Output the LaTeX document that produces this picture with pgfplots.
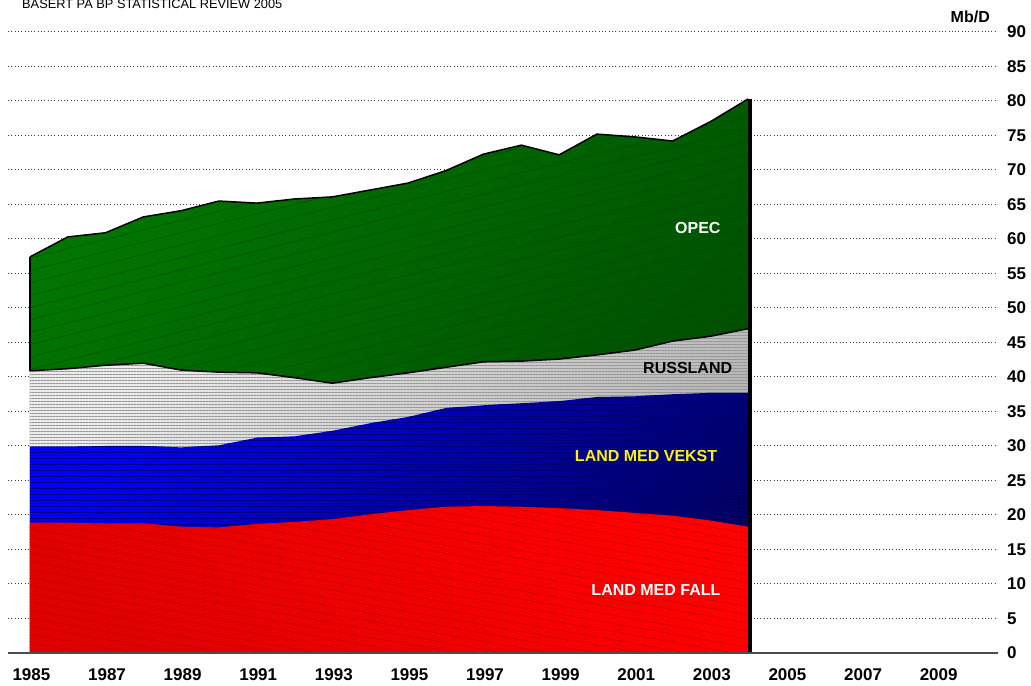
\documentclass[border=0pt]{standalone}
\usepackage{fontspec}
\setmainfont{Liberation Sans}
\usepackage{pgfplots}
\usepackage{pgfplotstable}
\pgfplotsset{compat=1.18}
\usetikzlibrary{patterns.meta}

\definecolor{opecA}{RGB}{0,118,0}
\definecolor{opecB}{RGB}{0,72,0}
\definecolor{opecL}{RGB}{0,70,0}
\definecolor{russA}{RGB}{236,236,236}
\definecolor{russB}{RGB}{172,172,172}
\definecolor{russL}{RGB}{150,150,150}
\definecolor{vekA}{RGB}{0,0,250}
\definecolor{vekB}{RGB}{0,0,90}
\definecolor{vekL}{RGB}{0,0,110}
\definecolor{fallA}{RGB}{255,0,0}
\definecolor{fallB}{RGB}{225,0,0}
\definecolor{fallL}{RGB}{175,0,0}
\definecolor{gridc}{RGB}{60,60,60}

\pgfplotstableread{
year fall vekst russ opec
1985 18.9 11.0 11.0 16.5
1986 18.9 11.0 11.3 19.1
1987 18.8 11.2 11.7 19.2
1988 18.8 11.2 12.0 21.2
1989 18.3 11.5 11.2 23.1
1990 18.2 11.9 10.6 24.8
1991 18.7 12.5 9.4 24.6
1992 19.0 12.4 8.5 25.9
1993 19.4 12.8 6.9 27.0
1994 20.1 13.2 6.6 27.2
1995 20.7 13.5 6.4 27.5
1996 21.2 14.3 5.9 28.5
1997 21.3 14.6 6.3 30.1
1998 21.2 15.0 6.1 31.3
1999 21.0 15.5 6.1 29.6
2000 20.7 16.4 6.1 32.0
2001 20.3 16.9 6.7 30.9
2002 19.9 17.6 7.7 29.0
2003 19.2 18.5 8.2 31.1
2004 18.3 19.4 9.3 33.3
}\data

\begin{document}
\begin{tikzpicture}[x=1bp,y=1bp]
\useasboundingbox (0,0) rectangle (1031,686);
\begin{axis}[
  at={(8bp,33bp)}, anchor=south west,
  scale only axis, width=990bp, height=621bp,
  xmin=1984.42, xmax=2010.61, ymin=0, ymax=90,
  xtick={1985,1987,...,2009}, ytick={0,5,...,90},
  axis line style={draw=none},
  major tick length=0pt,
  ymajorgrids,
  major grid style={gridc, line width=1bp, dash pattern=on 1bp off 2.3bp},
  yticklabel pos=right,
  /pgf/number format/assume math mode=true,
  /pgf/number format/1000 sep={},
  tick label style={font=\fontsize{17bp}{20bp}\selectfont\bfseries},
  yticklabel style={anchor=west, inner sep=0pt, xshift=9bp},
  xticklabel style={anchor=north, inner sep=0pt, yshift=-15bp, xshift=1.5bp},
  clip=false,
]
% OPEC (top of the stack = total)
\addplot[draw=none, shading=axis, top color=opecA, bottom color=opecB, shading angle=45]
  table[x=year, y expr=\thisrow{fall}+\thisrow{vekst}+\thisrow{russ}+\thisrow{opec}]{\data} \closedcycle;
\addplot[draw=none, pattern={Lines[angle=14, distance=12bp, line width=0.35bp]}, pattern color=opecL]
  table[x=year, y expr=\thisrow{fall}+\thisrow{vekst}+\thisrow{russ}+\thisrow{opec}]{\data} \closedcycle;
% RUSSLAND
\addplot[draw=none, shading=axis, top color=russA, bottom color=russB, shading angle=45]
  table[x=year, y expr=\thisrow{fall}+\thisrow{vekst}+\thisrow{russ}]{\data} \closedcycle;
\addplot[draw=none, pattern={Lines[angle=0, distance=3bp, line width=0.7bp]}, pattern color=russL]
  table[x=year, y expr=\thisrow{fall}+\thisrow{vekst}+\thisrow{russ}]{\data} \closedcycle;
% LAND MED VEKST
\addplot[draw=none, shading=axis, top color=vekA, bottom color=vekB, shading angle=45]
  table[x=year, y expr=\thisrow{fall}+\thisrow{vekst}]{\data} \closedcycle;
\addplot[draw=none, pattern={Lines[angle=0, distance=3bp, line width=0.5bp]}, pattern color=vekL]
  table[x=year, y expr=\thisrow{fall}+\thisrow{vekst}]{\data} \closedcycle;
% LAND MED FALL
\addplot[draw=none, shading=axis, top color=fallA, bottom color=fallB, shading angle=-45]
  table[x=year, y=fall]{\data} \closedcycle;
\addplot[draw=none, pattern={Lines[angle=-10, distance=8bp, line width=0.35bp]}, pattern color=fallL]
  table[x=year, y=fall]{\data} \closedcycle;
% OPEC outline
\addplot[black, line width=1.5bp, line join=round]
  table[x=year, y expr=\thisrow{fall}+\thisrow{vekst}+\thisrow{russ}+\thisrow{opec}]{\data};
\addplot[black, line width=1.5bp, line join=round]
  table[x=year, y expr=\thisrow{fall}+\thisrow{vekst}+\thisrow{russ}]{\data};
\addplot[black, line width=1.5bp] coordinates {(1985,40.9) (1985,57.4)};

\draw[black, line width=4bp] ([xshift=1.5bp]axis cs:2004,0) -- ([xshift=1.5bp]axis cs:2004,80.3);
\draw[gray!60!black, line width=2bp] (axis cs:1984.42,0) -- (axis cs:2010.61,0);

\node[white, font=\fontsize{16bp}{18bp}\selectfont\bfseries] at (axis cs:2002.67,61.6) {OPEC};
\node[black, font=\fontsize{16bp}{18bp}\selectfont\bfseries] at (axis cs:2002.4,41.3) {RUSSLAND};
\node[yellow, font=\fontsize{16bp}{18bp}\selectfont\bfseries] at (axis cs:2001.3,28.5) {LAND MED VEKST};
\node[white, font=\fontsize{16bp}{18bp}\selectfont\bfseries] at (axis cs:2001.56,9.1) {LAND MED FALL};
\end{axis}
\node[anchor=base west, font=\fontsize{12.8bp}{14bp}\selectfont, inner sep=0pt] at (22,677) {BASERT PA BP STATISTICAL REVIEW 2005};
\node[anchor=base east, font=\fontsize{16bp}{18bp}\selectfont\bfseries, inner sep=0pt] at (990,663) {Mb/D};
\end{tikzpicture}
\end{document}
